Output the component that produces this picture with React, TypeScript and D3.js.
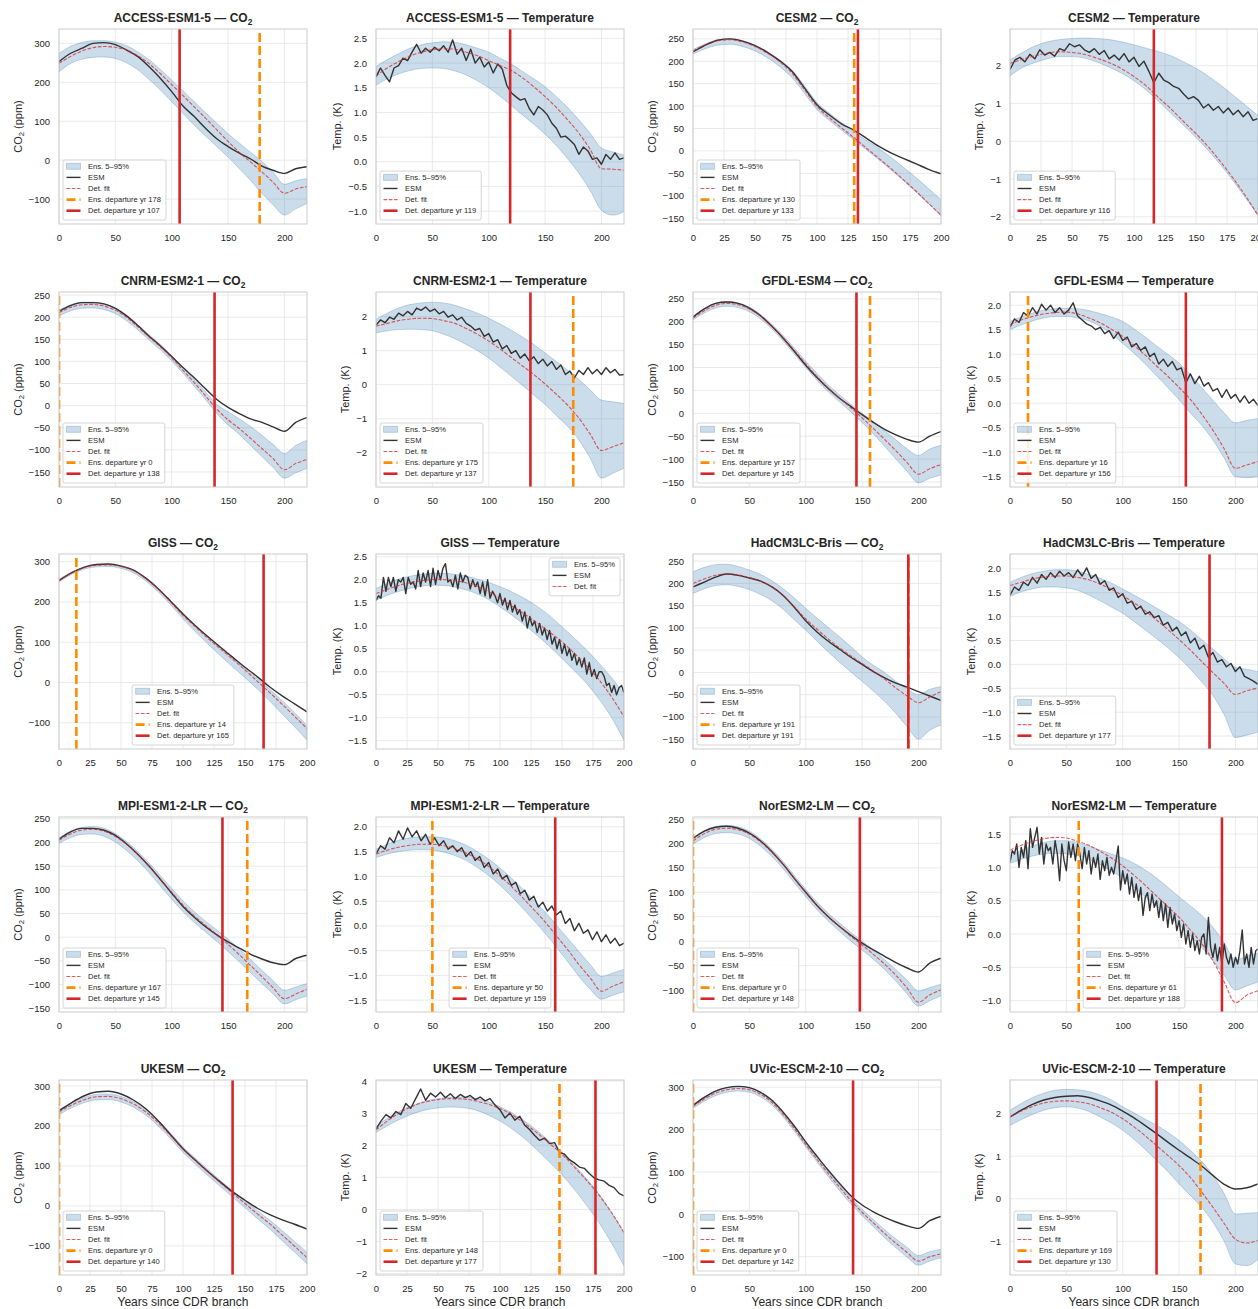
import React, { useRef, useEffect } from 'react';
import * as d3 from 'd3';

// ---- layout ----
const W = 1258;
const H = 1309;
const colLeft = [59, 376, 693, 1010];
const rowTop = [29, 292, 554, 817, 1080];
const plotW = 248;
const plotH = 195;
const FONT = "'Liberation Sans', Arial, Helvetica, sans-serif";
const TXT = '#262626';

// ---- tick values ----
const xTicks220 = [0, 50, 100, 150, 200];
const xTicks200 = [0, 25, 50, 75, 100, 125, 150, 175, 200];
const co2TicksA = [-100, 0, 100, 200, 300];
const co2TicksB = [-150, -100, -50, 0, 50, 100, 150, 200, 250];
const co2TicksC = [-100, -50, 0, 50, 100, 150, 200, 250];
const tTicksA = [-1, -0.5, 0, 0.5, 1, 1.5, 2, 2.5];
const tTicksB = [-2, -1, 0, 1, 2];
const tTicksC = [-1.5, -1, -0.5, 0, 0.5, 1, 1.5, 2];
const tTicksD = [-1.5, -1, -0.5, 0, 0.5, 1, 1.5, 2, 2.5];
const tTicksE = [-1, -0.5, 0, 0.5, 1, 1.5];
const tTicksF = [-2, -1, 0, 1, 2, 3, 4];
const tTicksG = [-1, 0, 1, 2];

// ---- series (band / fit / smooth ESM every 10 yr, noisy ESM every 4 or 2 yr) ----
// ACCESS-ESM1-5
const accessCo2Hi = [274, 292, 302, 307, 307, 303, 294, 278, 258, 233, 206, 178, 150, 122, 95, 68, 44, 20, -3, -32, -62, -53, -47];
const accessCo2Lo = [227, 248, 259, 264, 265, 261, 250, 232, 207, 180, 150, 120, 90, 62, 35, 8, -22, -52, -85, -115, -141, -125, -111];
const accessCo2Fit = [249, 266, 280, 289, 292, 290, 283, 268, 248, 222, 194, 166, 137, 108, 78, 48, 20, -5, -30, -57, -85, -74, -68];
const accessCo2Esm = [253, 274, 287, 300, 302, 297, 283, 266, 240, 210, 176, 139, 112, 82, 55, 35, 18, 3, -15, -26, -34, -22, -17];
const accessTHi = [1.93, 2.07, 2.19, 2.3, 2.37, 2.41, 2.43, 2.42, 2.37, 2.3, 2.22, 2.1, 1.98, 1.83, 1.68, 1.52, 1.32, 1.1, 0.85, 0.58, 0.28, 0.2, 0.14];
const accessTLo = [1.55, 1.68, 1.78, 1.85, 1.89, 1.9, 1.89, 1.84, 1.76, 1.64, 1.5, 1.33, 1.14, 0.95, 0.76, 0.56, 0.33, 0.06, -0.23, -0.58, -0.98, -1.08, -1.01];
const accessTFit = [1.74, 1.9, 2.03, 2.14, 2.22, 2.27, 2.29, 2.28, 2.22, 2.15, 2.05, 1.95, 1.85, 1.7, 1.52, 1.32, 1.1, 0.85, 0.58, 0.25, -0.14, -0.15, -0.17];
const accessTEsm = [1.72, 1.9, 1.75, 1.62, 1.9, 1.95, 2.1, 2.05, 2.22, 2.38, 2.2, 2.3, 2.22, 2.32, 2.25, 2.35, 2.22, 2.47, 2.18, 2.3,
  2.05, 2.28, 2.0, 2.12, 1.92, 2.02, 1.8, 1.98, 1.88, 1.55, 1.4, 1.32, 1.25, 1.28, 1.08, 0.95, 1.12, 1.05, 0.95, 0.78,
  0.68, 0.5, 0.52, 0.44, 0.35, 0.15, 0.3, 0.22, 0.05, 0.08, -0.05, 0.15, 0.05, 0.18, 0.05, 0.08];
// CESM2
const cesmCo2Hi = [226, 239, 248, 250, 246, 236, 221, 203, 180, 145, 108, 84, 63, 42, 23, 5, -15, -37, -60, -84, -109];
const cesmCo2Lo = [216, 228, 236, 238, 233, 223, 208, 188, 163, 128, 92, 68, 46, 24, 2, -20, -43, -67, -92, -118, -145];
const cesmCo2Fit = [223, 237, 246, 248, 243, 233, 218, 199, 173, 136, 99, 74, 51, 29, 6, -17, -40, -65, -90, -117, -143];
const cesmCo2Esm = [221, 236, 247, 250, 245, 235, 220, 201, 177, 140, 103, 80, 60, 46, 28, 10, -5, -17, -29, -41, -51];
const cesmTHi = [2.15, 2.35, 2.52, 2.63, 2.69, 2.72, 2.73, 2.72, 2.69, 2.63, 2.55, 2.46, 2.37, 2.26, 2.1, 1.93, 1.72, 1.48, 1.22, 0.95, 0.68];
const cesmTLo = [1.73, 1.95, 2.08, 2.18, 2.24, 2.24, 2.2, 2.1, 1.96, 1.8, 1.6, 1.35, 1.05, 0.73, 0.42, 0.1, -0.25, -0.63, -1.05, -1.5, -1.97];
const cesmTFit = [2.06, 2.17, 2.26, 2.33, 2.37, 2.35, 2.3, 2.2, 2.08, 1.92, 1.71, 1.46, 1.15, 0.85, 0.52, 0.2, -0.15, -0.55, -0.98, -1.45, -1.96];
const cesmTEsm = [1.9, 2.15, 2.22, 2.1, 2.3, 2.18, 2.42, 2.28, 2.35, 2.25, 2.45, 2.4, 2.58, 2.5, 2.55, 2.42, 2.35, 2.45, 2.3, 2.4,
  2.18, 2.28, 2.15, 2.32, 2.1, 2.22, 1.98, 2.12, 1.85, 1.55, 1.8, 1.62, 1.55, 1.45, 1.4, 1.25, 1.12, 1.18, 1.08, 0.88,
  0.98, 0.82, 0.92, 0.75, 0.88, 0.7, 0.82, 0.65, 0.78, 0.55, 0.6];
// CNRM-ESM2-1
const cnrmCo2Hi = [216, 228, 234, 234, 230, 221, 205, 183, 160, 138, 113, 86, 59, 31, 3, -14, -30, -47, -67, -88, -108, -90, -78];
const cnrmCo2Lo = [203, 214, 220, 221, 217, 208, 192, 171, 148, 126, 101, 73, 44, 14, -18, -44, -65, -90, -115, -140, -164, -152, -142];
const cnrmCo2Fit = [210, 222, 228, 229, 225, 216, 200, 178, 155, 133, 108, 80, 52, 22, -8, -32, -52, -74, -97, -120, -145, -131, -122];
const cnrmCo2Esm = [213, 226, 233, 233, 230, 220, 203, 181, 157, 135, 111, 86, 63, 38, 14, -4, -18, -30, -38, -48, -58, -38, -27];
const cnrmTHi = [1.92, 2.1, 2.25, 2.35, 2.4, 2.42, 2.4, 2.33, 2.22, 2.1, 1.95, 1.78, 1.6, 1.4, 1.18, 0.93, 0.68, 0.43, 0.15, -0.15, -0.45, -0.5, -0.55];
const cnrmTLo = [1.52, 1.58, 1.62, 1.63, 1.62, 1.58, 1.48, 1.35, 1.18, 1.0, 0.78, 0.52, 0.25, -0.02, -0.3, -0.58, -0.9, -1.22, -1.62, -2.15, -2.74, -2.6, -2.45];
const cnrmTFit = [1.72, 1.8, 1.88, 1.93, 1.95, 1.94, 1.88, 1.8, 1.65, 1.48, 1.28, 1.05, 0.8, 0.55, 0.3, 0.02, -0.28, -0.6, -0.98, -1.45, -1.93, -1.82, -1.7];
const cnrmTEsm = [1.75, 1.9, 1.82, 1.98, 1.92, 2.1, 2.02, 2.15, 2.05, 2.25, 2.18, 2.28, 2.15, 2.22, 2.08, 2.15, 1.98, 2.05, 1.9, 1.98,
  1.8, 1.72, 1.6, 1.65, 1.42, 1.5, 1.25, 1.32, 1.05, 1.15, 0.92, 1.0, 0.78, 0.9, 0.7, 0.82, 0.62, 0.75, 0.55, 0.68,
  0.45, 0.58, 0.3, 0.4, 0.2, 0.42, 0.3, 0.5, 0.32, 0.45, 0.3, 0.5, 0.35, 0.45, 0.28, 0.3];
// GFDL-ESM4
const gfdlCo2Hi = [212, 228, 240, 244, 241, 232, 216, 194, 170, 142, 114, 87, 62, 40, 20, 0, -18, -38, -58, -78, -92, -78, -70];
const gfdlCo2Lo = [204, 219, 230, 234, 231, 222, 206, 184, 158, 129, 100, 72, 47, 25, 3, -20, -45, -72, -100, -127, -152, -142, -135];
const gfdlCo2Fit = [208, 224, 236, 240, 237, 228, 212, 190, 165, 137, 108, 80, 55, 33, 12, -10, -33, -57, -82, -108, -133, -121, -112];
const gfdlCo2Esm = [210, 228, 240, 243, 240, 230, 213, 190, 164, 135, 105, 78, 54, 33, 15, -3, -20, -35, -47, -57, -63, -50, -40];
const gfdlTHi = [1.67, 1.76, 1.84, 1.9, 1.93, 1.94, 1.93, 1.89, 1.83, 1.76, 1.67, 1.52, 1.35, 1.17, 1.0, 0.82, 0.58, 0.32, 0.06, -0.2, -0.4, -0.35, -0.31];
const gfdlTLo = [1.5, 1.6, 1.68, 1.74, 1.77, 1.77, 1.74, 1.68, 1.57, 1.41, 1.22, 1.02, 0.8, 0.56, 0.32, 0.07, -0.2, -0.45, -0.75, -1.12, -1.5, -1.52, -1.5];
const gfdlTFit = [1.6, 1.7, 1.77, 1.82, 1.85, 1.86, 1.82, 1.74, 1.64, 1.51, 1.36, 1.18, 0.98, 0.76, 0.55, 0.32, 0.08, -0.22, -0.55, -0.93, -1.33, -1.26, -1.19];
const gfdlTEsm = [1.55, 1.72, 1.65, 1.85, 1.78, 1.95, 1.82, 2.02, 1.9, 2.0, 1.85, 1.95, 1.82, 1.9, 2.05, 1.78, 1.7, 1.62, 1.58, 1.5,
  1.55, 1.42, 1.48, 1.32, 1.45, 1.28, 1.35, 1.15, 1.22, 1.08, 1.15, 0.95, 1.02, 0.8, 0.9, 0.75, 0.85, 0.68, 0.72, 0.42,
  0.6, 0.4, 0.55, 0.35, 0.42, 0.25, 0.3, 0.12, 0.28, 0.1, 0.18, 0.02, 0.15, 0.0, 0.08, -0.05];
// GISS
const gissCo2Hi = [256, 274, 287, 293, 294, 290, 280, 260, 234, 203, 170, 141, 113, 87, 61, 35, 9, -17, -45, -75, -107];
const gissCo2Lo = [250, 268, 281, 287, 288, 283, 272, 252, 225, 193, 158, 126, 96, 67, 39, 12, -16, -46, -78, -110, -143];
const gissCo2Fit = [254, 272, 285, 291, 292, 288, 278, 258, 232, 200, 167, 138, 110, 84, 58, 31, 3, -25, -54, -84, -114];
const gissCo2Esm = [253, 272, 286, 293, 294, 289, 279, 259, 233, 202, 170, 141, 114, 88, 63, 38, 14, -11, -33, -53, -73];
const gissTHi = [1.81, 1.93, 2.03, 2.09, 2.13, 2.14, 2.13, 2.09, 2.03, 1.95, 1.85, 1.73, 1.59, 1.42, 1.22, 0.98, 0.73, 0.47, 0.18, -0.13, -0.47];
const gissTLo = [1.56, 1.67, 1.76, 1.83, 1.87, 1.88, 1.86, 1.8, 1.71, 1.58, 1.41, 1.22, 1.01, 0.79, 0.55, 0.29, 0.02, -0.26, -0.6, -1.0, -1.49];
const gissTFit = [1.7, 1.8, 1.89, 1.95, 1.99, 2.01, 1.99, 1.95, 1.87, 1.75, 1.59, 1.42, 1.25, 1.06, 0.86, 0.65, 0.4, 0.12, -0.18, -0.55, -0.98];
const gissTEsm = [1.55, 1.65, 1.6, 2.05, 1.75, 2.05, 1.85, 2.05, 1.75, 2.0,
  1.95, 2.05, 1.7, 2.05, 1.9, 1.95, 1.8, 2.2, 1.85, 2.15,
  1.95, 2.2, 1.85, 2.25, 1.9, 2.2, 2.0, 2.25, 2.35, 1.95,
  2.0, 1.85, 2.1, 1.8, 2.15, 1.95, 2.1, 2.05, 1.8, 2.0,
  1.85, 1.95, 1.7, 1.95, 1.65, 2.0, 1.6, 1.75, 1.65, 1.5,
  1.7, 1.45, 1.6, 1.35, 1.55, 1.3, 1.45, 1.25, 1.35, 1.1,
  1.3, 0.95, 1.2, 1.0, 1.1, 0.85, 1.05, 0.8, 0.95, 0.7,
  0.9, 0.6, 0.75, 0.5, 0.7, 0.4, 0.6, 0.35, 0.5, 0.25,
  0.4, 0.15, 0.3, 0.1, 0.3, -0.05, 0.2, -0.1, 0.05, -0.15,
  0.0, 0.0, -0.1, -0.3, -0.25, -0.45, -0.3, -0.5, -0.35, -0.3,
  -0.45];
// HadCM3LC-Bris
const hadCo2Hi = [226, 236, 242, 243, 238, 230, 220, 206, 188, 167, 144, 122, 101, 80, 58, 35, 16, 0, -20, -37, -50, -38, -32];
const hadCo2Lo = [177, 188, 195, 197, 193, 186, 175, 161, 142, 118, 95, 70, 46, 23, 1, -20, -42, -65, -92, -122, -150, -130, -118];
const hadCo2Fit = [200, 210, 218, 221, 219, 213, 205, 192, 172, 147, 120, 97, 75, 55, 37, 20, 3, -15, -35, -53, -68, -55, -43];
const hadCo2Esm = [192, 203, 214, 221, 218, 212, 205, 192, 173, 146, 116, 91, 70, 52, 34, 18, 2, -12, -24, -33, -43, -53, -63];
const hadTHi = [1.72, 1.82, 1.9, 1.95, 1.98, 1.98, 1.95, 1.88, 1.8, 1.7, 1.58, 1.45, 1.32, 1.18, 1.04, 0.9, 0.72, 0.52, 0.32, 0.12, -0.06, -0.1, -0.15];
const hadTLo = [1.42, 1.52, 1.58, 1.62, 1.62, 1.6, 1.55, 1.45, 1.33, 1.2, 1.07, 0.9, 0.72, 0.54, 0.35, 0.14, -0.1, -0.36, -0.65, -1.05, -1.53, -1.48, -1.42];
const hadTFit = [1.65, 1.72, 1.79, 1.83, 1.85, 1.85, 1.82, 1.77, 1.68, 1.57, 1.44, 1.29, 1.12, 0.93, 0.73, 0.52, 0.3, 0.06, -0.17, -0.4, -0.63, -0.55, -0.5];
const hadTEsm = [1.45, 1.62, 1.55, 1.72, 1.65, 1.82, 1.7, 1.88, 1.78, 1.92, 1.82, 1.95, 1.85, 1.92, 1.82, 1.98, 1.85, 2.02, 1.8, 1.88,
  1.68, 1.75, 1.55, 1.6, 1.4, 1.48, 1.28, 1.32, 1.15, 1.22, 1.05, 1.1, 0.98, 1.02, 0.82, 0.88, 0.7, 0.78, 0.6, 0.68,
  0.45, 0.55, 0.32, 0.4, 0.15, 0.25, 0.05, 0.1, -0.05, 0.02, -0.15, -0.05, -0.25, -0.3, -0.35, -0.42];
// MPI-ESM1-2-LR
const mpiCo2Hi = [210, 224, 232, 234, 230, 219, 202, 181, 157, 130, 103, 77, 54, 34, 15, -4, -25, -47, -70, -92, -112, -105, -98];
const mpiCo2Lo = [198, 210, 217, 218, 213, 201, 183, 161, 136, 108, 80, 54, 31, 11, -9, -30, -52, -75, -98, -120, -141, -132, -124];
const mpiCo2Fit = [205, 218, 226, 228, 224, 213, 196, 175, 150, 122, 95, 68, 45, 25, 5, -15, -37, -60, -83, -107, -130, -120, -110];
const mpiCo2Esm = [207, 222, 230, 230, 226, 215, 197, 175, 150, 122, 93, 65, 42, 22, 5, -10, -23, -36, -46, -54, -58, -45, -38];
const mpiTHi = [1.55, 1.65, 1.73, 1.78, 1.8, 1.8, 1.78, 1.72, 1.63, 1.5, 1.35, 1.17, 0.97, 0.75, 0.52, 0.28, 0.02, -0.25, -0.52, -0.78, -1.02, -0.95, -0.88];
const mpiTLo = [1.38, 1.45, 1.5, 1.53, 1.54, 1.53, 1.49, 1.42, 1.32, 1.18, 1.02, 0.82, 0.6, 0.36, 0.11, -0.15, -0.43, -0.72, -1.02, -1.28, -1.48, -1.4, -1.33];
const mpiTFit = [1.45, 1.53, 1.59, 1.63, 1.65, 1.65, 1.62, 1.56, 1.47, 1.35, 1.2, 1.01, 0.8, 0.57, 0.33, 0.08, -0.2, -0.48, -0.78, -1.05, -1.32, -1.22, -1.13];
const mpiTEsm = [1.45, 1.62, 1.55, 1.78, 1.68, 1.92, 1.75, 1.98, 1.8, 1.92, 1.72, 1.85, 1.65, 1.78, 1.62, 1.72, 1.55, 1.62, 1.5, 1.58,
  1.4, 1.5, 1.32, 1.4, 1.18, 1.28, 1.05, 1.15, 0.95, 1.02, 0.82, 0.88, 0.65, 0.72, 0.52, 0.6, 0.38, 0.48, 0.3, 0.4,
  0.22, 0.3, 0.05, 0.15, -0.1, 0.05, -0.15, -0.08, -0.28, -0.12, -0.32, -0.18, -0.35, -0.25, -0.4, -0.35];
// NorESM2-LM
const norCo2Hi = [212, 226, 235, 237, 234, 225, 209, 188, 163, 134, 106, 80, 57, 37, 18, 0, -18, -38, -58, -80, -102, -95, -88];
const norCo2Lo = [198, 212, 220, 222, 219, 210, 194, 173, 148, 119, 91, 64, 41, 20, 0, -18, -37, -58, -82, -108, -133, -122, -112];
const norCo2Fit = [205, 220, 229, 231, 228, 219, 203, 182, 157, 128, 100, 73, 50, 30, 10, -8, -27, -47, -70, -96, -125, -110, -100];
const norCo2Esm = [210, 225, 233, 235, 231, 221, 205, 183, 157, 128, 100, 73, 50, 30, 12, -4, -18, -31, -44, -55, -63, -45, -35];
const norTHi = [1.16, 1.25, 1.32, 1.37, 1.4, 1.4, 1.37, 1.32, 1.26, 1.2, 1.14, 1.06, 0.96, 0.84, 0.7, 0.56, 0.42, 0.28, 0.1, -0.13, -0.39, -0.33, -0.29];
const norTLo = [1.06, 1.12, 1.17, 1.2, 1.21, 1.2, 1.18, 1.12, 1.04, 0.94, 0.84, 0.7, 0.56, 0.42, 0.28, 0.14, -0.03, -0.2, -0.4, -0.62, -0.84, -0.78, -0.72];
const norTFit = [1.26, 1.33, 1.39, 1.43, 1.45, 1.44, 1.39, 1.33, 1.24, 1.14, 1.02, 0.88, 0.73, 0.57, 0.41, 0.25, 0.06, -0.14, -0.4, -0.72, -1.03, -0.92, -0.85];
const norTEsm = [1.08, 1.25, 1.2, 1.35, 1.0, 1.3, 1.15, 1.4, 0.98, 1.58,
  1.3, 1.45, 1.6, 1.2, 1.45, 1.05, 1.35, 1.25, 1.3, 1.05,
  1.4, 1.2, 0.8, 1.35, 1.1, 0.95, 1.38, 1.15, 1.35, 1.1,
  1.35, 1.2, 0.98, 1.3, 1.05, 1.25, 0.9, 1.15, 1.0, 1.2,
  0.82, 1.1, 0.95, 1.15, 0.88, 1.0, 0.9, 1.1, 1.32, 0.66,
  0.95, 0.75, 0.9, 0.6, 0.85, 0.55, 0.75, 0.5, 0.7, 0.28,
  0.55, 0.62, 0.35, 0.6, 0.4, 0.5, 0.25, 0.5, 0.2, 0.45,
  0.1, 0.4, 0.15, 0.3, 0.05, 0.2, -0.05, 0.15, -0.15, 0.05,
  -0.2, 0.0, -0.25, -0.1, -0.3, -0.05, 0.0, -0.3, 0.25, -0.2,
  -0.35, -0.15, -0.4, -0.2, -0.45, -0.15, -0.35, -0.45, -0.3, -0.5,
  -0.35, -0.45, -0.25, 0.06, -0.45, -0.3, -0.5, -0.2, -0.45, -0.25,
  -0.22];
// UKESM
const ukCo2Hi = [241, 258, 271, 279, 280, 274, 261, 241, 214, 182, 148, 119, 91, 64, 38, 13, -12, -36, -62, -89, -116];
const ukCo2Lo = [228, 245, 258, 265, 266, 260, 247, 227, 200, 168, 134, 104, 76, 49, 22, -5, -32, -58, -87, -116, -145];
const ukCo2Fit = [235, 252, 265, 273, 274, 268, 255, 235, 208, 176, 142, 113, 85, 58, 32, 6, -20, -45, -73, -101, -130];
const ukCo2Esm = [238, 258, 275, 285, 287, 280, 265, 243, 213, 178, 143, 114, 86, 60, 35, 14, -6, -22, -35, -46, -58];
const ukTHi = [2.58, 2.86, 3.08, 3.25, 3.38, 3.45, 3.49, 3.5, 3.46, 3.36, 3.2, 3.0, 2.75, 2.45, 2.12, 1.78, 1.38, 0.95, 0.48, -0.1, -0.72];
const ukTLo = [2.4, 2.62, 2.82, 2.98, 3.1, 3.16, 3.19, 3.17, 3.1, 2.95, 2.75, 2.5, 2.2, 1.85, 1.47, 1.08, 0.62, 0.12, -0.42, -1.05, -1.76];
const ukTFit = [2.47, 2.78, 3.03, 3.22, 3.35, 3.42, 3.45, 3.44, 3.38, 3.28, 3.14, 2.94, 2.67, 2.38, 2.05, 1.72, 1.32, 0.9, 0.44, -0.1, -0.72];
const ukTEsm = [2.5, 2.75, 2.95, 2.85, 3.05, 2.95, 3.3, 3.15, 3.45, 3.75, 3.4, 3.62, 3.5, 3.65, 3.48, 3.6, 3.45, 3.58, 3.48, 3.55,
  3.42, 3.5, 3.38, 3.45, 3.25, 3.1, 2.85, 3.0, 2.78, 2.9, 2.62, 2.48, 2.3, 2.15, 2.22, 2.05, 2.08, 1.78, 1.72, 1.55,
  1.45, 1.32, 1.28, 1.12, 0.98, 0.92, 0.88, 0.75, 0.68, 0.5, 0.42];
// UVic-ESCM-2-10
const uvicCo2Hi = [259, 277, 291, 299, 302, 299, 288, 269, 241, 207, 170, 135, 101, 69, 39, 12, -12, -36, -58, -78, -97, -88, -82];
const uvicCo2Lo = [250, 267, 280, 288, 291, 288, 277, 258, 230, 196, 159, 124, 89, 56, 25, -3, -29, -55, -79, -101, -120, -110, -103];
const uvicCo2Fit = [255, 272, 286, 294, 297, 294, 283, 264, 236, 202, 165, 130, 96, 64, 33, 5, -20, -45, -68, -90, -110, -100, -93];
const uvicCo2Esm = [257, 276, 291, 299, 302, 299, 288, 269, 241, 208, 171, 137, 104, 73, 44, 22, 6, -7, -18, -27, -33, -15, -5];
const uvicTHi = [2.08, 2.24, 2.38, 2.48, 2.55, 2.57, 2.56, 2.52, 2.44, 2.32, 2.16, 2.02, 1.87, 1.73, 1.56, 1.37, 1.14, 0.88, 0.55, 0.12, -0.36, -0.34, -0.32];
const uvicTLo = [1.72, 1.86, 1.98, 2.08, 2.14, 2.16, 2.13, 2.05, 1.92, 1.78, 1.61, 1.4, 1.16, 0.9, 0.64, 0.35, 0.08, -0.2, -0.55, -1.0, -1.53, -1.57, -1.42];
const uvicTFit = [1.92, 2.06, 2.17, 2.25, 2.29, 2.3, 2.28, 2.23, 2.14, 2.03, 1.88, 1.69, 1.48, 1.25, 1.02, 0.78, 0.5, 0.16, -0.2, -0.58, -0.95, -1.04, -0.98];
const uvicTEsm = [1.92, 2.08, 2.22, 2.32, 2.38, 2.41, 2.42, 2.38, 2.3, 2.2, 2.06, 1.9, 1.72, 1.53, 1.33, 1.14, 0.96, 0.77, 0.55, 0.34, 0.23, 0.26, 0.35];

type Panel = {
  model: string; kind: 'co2' | 'temp'; xMax: number; yDomain: number[]; yTicks: number[]; dec: number;
  hi: number[]; lo: number[]; fit: number[]; esm: number[]; esmStep: number;
  ens: number | null; det: number | null; legend: 'll' | 'lc' | 'ur';
};

const panels: Panel[] = [
  { model: 'ACCESS-ESM1-5', kind: 'co2', xMax: 220, yDomain: [-164, 337], yTicks: co2TicksA, dec: 0, hi: accessCo2Hi, lo: accessCo2Lo, fit: accessCo2Fit, esm: accessCo2Esm, esmStep: 10, ens: 178, det: 107, legend: 'll' },
  { model: 'ACCESS-ESM1-5', kind: 'temp', xMax: 220, yDomain: [-1.26, 2.69], yTicks: tTicksA, dec: 1, hi: accessTHi, lo: accessTLo, fit: accessTFit, esm: accessTEsm, esmStep: 4, ens: null, det: 119, legend: 'll' },
  { model: 'CESM2', kind: 'co2', xMax: 200, yDomain: [-163, 272], yTicks: co2TicksB, dec: 0, hi: cesmCo2Hi, lo: cesmCo2Lo, fit: cesmCo2Fit, esm: cesmCo2Esm, esmStep: 10, ens: 130, det: 133, legend: 'll' },
  { model: 'CESM2', kind: 'temp', xMax: 200, yDomain: [-2.19, 2.97], yTicks: tTicksB, dec: 0, hi: cesmTHi, lo: cesmTLo, fit: cesmTFit, esm: cesmTEsm, esmStep: 4, ens: null, det: 116, legend: 'll' },
  { model: 'CNRM-ESM2-1', kind: 'co2', xMax: 220, yDomain: [-184, 257], yTicks: co2TicksB, dec: 0, hi: cnrmCo2Hi, lo: cnrmCo2Lo, fit: cnrmCo2Fit, esm: cnrmCo2Esm, esmStep: 10, ens: 0, det: 138, legend: 'll' },
  { model: 'CNRM-ESM2-1', kind: 'temp', xMax: 220, yDomain: [-3.0, 2.72], yTicks: tTicksB, dec: 0, hi: cnrmTHi, lo: cnrmTLo, fit: cnrmTFit, esm: cnrmTEsm, esmStep: 4, ens: 175, det: 137, legend: 'll' },
  { model: 'GFDL-ESM4', kind: 'co2', xMax: 220, yDomain: [-161, 265], yTicks: co2TicksB, dec: 0, hi: gfdlCo2Hi, lo: gfdlCo2Lo, fit: gfdlCo2Fit, esm: gfdlCo2Esm, esmStep: 10, ens: 157, det: 145, legend: 'll' },
  { model: 'GFDL-ESM4', kind: 'temp', xMax: 220, yDomain: [-1.71, 2.27], yTicks: tTicksC, dec: 1, hi: gfdlTHi, lo: gfdlTLo, fit: gfdlTFit, esm: gfdlTEsm, esmStep: 4, ens: 16, det: 156, legend: 'll' },
  { model: 'GISS', kind: 'co2', xMax: 200, yDomain: [-165, 319], yTicks: co2TicksA, dec: 0, hi: gissCo2Hi, lo: gissCo2Lo, fit: gissCo2Fit, esm: gissCo2Esm, esmStep: 10, ens: 14, det: 165, legend: 'lc' },
  { model: 'GISS', kind: 'temp', xMax: 200, yDomain: [-1.68, 2.56], yTicks: tTicksD, dec: 1, hi: gissTHi, lo: gissTLo, fit: gissTFit, esm: gissTEsm, esmStep: 2, ens: null, det: null, legend: 'ur' },
  { model: 'HadCM3LC-Bris', kind: 'co2', xMax: 220, yDomain: [-172, 266], yTicks: co2TicksB, dec: 0, hi: hadCo2Hi, lo: hadCo2Lo, fit: hadCo2Fit, esm: hadCo2Esm, esmStep: 10, ens: 191, det: 191, legend: 'll' },
  { model: 'HadCM3LC-Bris', kind: 'temp', xMax: 220, yDomain: [-1.77, 2.31], yTicks: tTicksC, dec: 1, hi: hadTHi, lo: hadTLo, fit: hadTFit, esm: hadTEsm, esmStep: 4, ens: null, det: 177, legend: 'll' },
  { model: 'MPI-ESM1-2-LR', kind: 'co2', xMax: 220, yDomain: [-158, 254], yTicks: co2TicksB, dec: 0, hi: mpiCo2Hi, lo: mpiCo2Lo, fit: mpiCo2Fit, esm: mpiCo2Esm, esmStep: 10, ens: 167, det: 145, legend: 'll' },
  { model: 'MPI-ESM1-2-LR', kind: 'temp', xMax: 220, yDomain: [-1.74, 2.2], yTicks: tTicksC, dec: 1, hi: mpiTHi, lo: mpiTLo, fit: mpiTFit, esm: mpiTEsm, esmStep: 4, ens: 50, det: 159, legend: 'lc' },
  { model: 'NorESM2-LM', kind: 'co2', xMax: 220, yDomain: [-145, 254], yTicks: co2TicksC, dec: 0, hi: norCo2Hi, lo: norCo2Lo, fit: norCo2Fit, esm: norCo2Esm, esmStep: 10, ens: 0, det: 148, legend: 'll' },
  { model: 'NorESM2-LM', kind: 'temp', xMax: 220, yDomain: [-1.17, 1.755], yTicks: tTicksE, dec: 1, hi: norTHi, lo: norTLo, fit: norTFit, esm: norTEsm, esmStep: 2, ens: 61, det: 188, legend: 'lc' },
  { model: 'UKESM', kind: 'co2', xMax: 200, yDomain: [-173, 315], yTicks: co2TicksA, dec: 0, hi: ukCo2Hi, lo: ukCo2Lo, fit: ukCo2Fit, esm: ukCo2Esm, esmStep: 10, ens: 0, det: 140, legend: 'll' },
  { model: 'UKESM', kind: 'temp', xMax: 200, yDomain: [-2.04, 4.03], yTicks: tTicksF, dec: 0, hi: ukTHi, lo: ukTLo, fit: ukTFit, esm: ukTEsm, esmStep: 4, ens: 148, det: 177, legend: 'll' },
  { model: 'UVic-ESCM-2-10', kind: 'co2', xMax: 220, yDomain: [-143, 317], yTicks: co2TicksA, dec: 0, hi: uvicCo2Hi, lo: uvicCo2Lo, fit: uvicCo2Fit, esm: uvicCo2Esm, esmStep: 10, ens: 0, det: 142, legend: 'll' },
  { model: 'UVic-ESCM-2-10', kind: 'temp', xMax: 220, yDomain: [-1.79, 2.79], yTicks: tTicksG, dec: 0, hi: uvicTHi, lo: uvicTLo, fit: uvicTFit, esm: uvicTEsm, esmStep: 10, ens: 169, det: 130, legend: 'll' },
];

const fmt = (v: number, dec: number) => (v < 0 ? '\u2212' : '') + Math.abs(v).toFixed(dec);

// text with a CO2 subscript
function co2Text(sel: any, before: string, after: string) {
  sel.append('tspan').text(before + 'CO');
  sel.append('tspan').attr('font-size', '70%').attr('dy', 2.5).text('2');
  if (after) sel.append('tspan').attr('dy', -2.5).text(after);
}

function drawLegend(g: any, p: Panel, L: number, T: number, R: number, B: number) {
  const entries: { type: string; label: string }[] = [
    { type: 'patch', label: 'Ens. 5\u201395%' },
    { type: 'esm', label: 'ESM' },
    { type: 'fit', label: 'Det. fit' },
  ];
  if (p.ens != null) entries.push({ type: 'ens', label: `Ens. departure yr ${p.ens}` });
  if (p.det != null) entries.push({ type: 'det', label: `Det. departure yr ${p.det}` });

  const rowH = 11.1;
  const lg = g.append('g');
  const box = lg.append('rect');
  const texts = lg.selectAll('text.lt').data(entries).join('text')
    .attr('class', 'lt')
    .attr('font-family', FONT).attr('font-size', 7.6).attr('fill', TXT)
    .text((d: any) => d.label);
  let maxW = 0;
  texts.each(function (this: SVGTextElement) { maxW = Math.max(maxW, this.getComputedTextLength()); });
  const bw = 25 + maxW + 5;
  const bh = entries.length * rowH + 4.5;
  let bx = L + 4;
  let by = B - 4 - bh;
  if (p.legend === 'lc') bx = (L + R) / 2 - bw / 2;
  if (p.legend === 'ur') { bx = R - 4 - bw; by = T + 4; }
  box.attr('x', bx).attr('y', by).attr('width', bw).attr('height', bh).attr('rx', 2)
    .attr('fill', '#fff').attr('fill-opacity', 0.85).attr('stroke', '#cccccc').attr('stroke-width', 0.8);
  const cy = (k: number) => by + 6.3 + k * rowH;
  texts.attr('x', bx + 25).attr('y', (d: any, k: number) => cy(k) + 2.7);

  entries.forEach((e, k) => {
    const yy = cy(k);
    const x0 = bx + 3.5, x1 = bx + 17.5;
    if (e.type === 'patch') {
      lg.append('rect').attr('x', x0).attr('y', yy - 3).attr('width', x1 - x0).attr('height', 6)
        .attr('fill', 'steelblue').attr('fill-opacity', 0.28).attr('stroke', 'steelblue').attr('stroke-opacity', 0.3);
    } else {
      const ln = lg.append('line').attr('x1', x0).attr('x2', x1).attr('y1', yy).attr('y2', yy);
      if (e.type === 'esm') ln.attr('stroke', '#333').attr('stroke-width', 1.4);
      if (e.type === 'fit') ln.attr('stroke', '#d62728').attr('stroke-opacity', 0.75).attr('stroke-width', 1.1).attr('stroke-dasharray', '3.7,1.6');
      if (e.type === 'ens') ln.attr('stroke', '#ff8c00').attr('stroke-width', 2.6).attr('stroke-dasharray', '9,4');
      if (e.type === 'det') ln.attr('stroke', '#d62728').attr('stroke-width', 2.6);
    }
  });
}

function drawPanel(svg: any, p: Panel, i: number) {
  const row = Math.floor(i / 4);
  const col = i % 4;
  const L = colLeft[col], T = rowTop[row], R = L + plotW, B = T + plotH;
  const x = d3.scaleLinear().domain([0, p.xMax]).range([L, R]);
  const y = d3.scaleLinear().domain(p.yDomain).range([B, T]);
  const xt = p.xMax === 220 ? xTicks220 : xTicks200;
  const g = svg.append('g');

  // grid
  g.append('g').selectAll('line').data(xt).join('line')
    .attr('x1', (d: number) => x(d)).attr('x2', (d: number) => x(d)).attr('y1', T).attr('y2', B)
    .attr('stroke', '#e8e8e8').attr('stroke-width', 0.9);
  g.append('g').selectAll('line').data(p.yTicks).join('line')
    .attr('x1', L).attr('x2', R).attr('y1', (d: number) => y(d)).attr('y2', (d: number) => y(d))
    .attr('stroke', '#e8e8e8').attr('stroke-width', 0.9);

  const clipId = `clip-${i}`;
  g.append('clipPath').attr('id', clipId).append('rect')
    .attr('x', L).attr('y', T).attr('width', plotW).attr('height', plotH);
  const plot = g.append('g').attr('clip-path', `url(#${clipId})`);

  const yrs = d3.range(0, p.xMax + 1, 10);
  const band = d3.area<number>()
    .x((d, k) => x(yrs[k]))
    .y0((d, k) => y(p.lo[k]))
    .y1(d => y(d))
    .curve(d3.curveMonotoneX);
  plot.append('path').datum(p.hi).attr('d', band)
    .attr('fill', 'steelblue').attr('fill-opacity', 0.28)
    .attr('stroke', 'steelblue').attr('stroke-opacity', 0.3).attr('stroke-width', 1);

  const esmYrs = d3.range(0, p.xMax + 1, p.esmStep);
  const esmLine = d3.line<number>()
    .x((d, k) => x(esmYrs[k]))
    .y(d => y(d))
    .curve(p.esmStep === 10 ? d3.curveMonotoneX : d3.curveLinear);
  plot.append('path').datum(p.esm).attr('d', esmLine)
    .attr('fill', 'none').attr('stroke', '#333').attr('stroke-width', 1.4).attr('stroke-linejoin', 'round');

  const fitLine = d3.line<number>()
    .x((d, k) => x(yrs[k]))
    .y(d => y(d))
    .curve(d3.curveMonotoneX);
  plot.append('path').datum(p.fit).attr('d', fitLine)
    .attr('fill', 'none').attr('stroke', '#d62728').attr('stroke-opacity', 0.75)
    .attr('stroke-width', 1.1).attr('stroke-dasharray', '3.7,1.6');

  if (p.ens != null) {
    plot.append('line').attr('x1', x(p.ens)).attr('x2', x(p.ens)).attr('y1', B).attr('y2', T)
      .attr('stroke', '#ff8c00').attr('stroke-width', 2.6).attr('stroke-dasharray', '9,4');
  }
  if (p.det != null) {
    plot.append('line').attr('x1', x(p.det)).attr('x2', x(p.det)).attr('y1', B).attr('y2', T)
      .attr('stroke', '#d62728').attr('stroke-width', 2.6);
  }

  // frame
  g.append('rect').attr('x', L).attr('y', T).attr('width', plotW).attr('height', plotH)
    .attr('fill', 'none').attr('stroke', '#cccccc').attr('stroke-width', 1);

  // axes
  const ax = g.append('g').attr('transform', `translate(0,${B})`)
    .call(d3.axisBottom(x).tickValues(xt).tickSize(0).tickPadding(10).tickFormat((d: any) => String(d)));
  ax.select('.domain').remove();
  ax.attr('font-family', FONT).attr('font-size', 9.5).attr('color', TXT);

  const ay = g.append('g').attr('transform', `translate(${L},0)`)
    .call(d3.axisLeft(y).tickValues(p.yTicks).tickSize(0).tickPadding(9).tickFormat((d: any) => fmt(d, p.dec)));
  ay.select('.domain').remove();
  ay.attr('font-family', FONT).attr('font-size', 9.5).attr('color', TXT);
  let maxW = 0;
  ay.selectAll('text').each(function (this: SVGTextElement) { maxW = Math.max(maxW, this.getComputedTextLength()); });

  // y label
  const lx = L - 9 - maxW - 7;
  const yl = g.append('text')
    .attr('transform', `translate(${lx},${(T + B) / 2}) rotate(-90)`)
    .attr('text-anchor', 'middle').attr('font-family', FONT).attr('font-size', 11).attr('fill', TXT);
  if (p.kind === 'co2') co2Text(yl, '', ' (ppm)');
  else yl.text('Temp. (K)');

  // title
  const tt = g.append('text').attr('x', (L + R) / 2).attr('y', T - 7)
    .attr('text-anchor', 'middle').attr('font-family', FONT).attr('font-size', 12)
    .attr('font-weight', 'bold').attr('fill', TXT);
  if (p.kind === 'co2') co2Text(tt, `${p.model} \u2014 `, '');
  else tt.text(`${p.model} \u2014 Temperature`);

  if (row === 4) {
    g.append('text').attr('x', (L + R) / 2).attr('y', B + 31)
      .attr('text-anchor', 'middle').attr('font-family', FONT).attr('font-size', 12).attr('fill', TXT)
      .text('Years since CDR branch');
  }

  drawLegend(g, p, L, T, R, B);
}

const App = () => {
  const svgRef = useRef<SVGSVGElement>(null);

  useEffect(() => {
    document.body.style.margin = '0';
    const svg = d3.select(svgRef.current)
      .attr('width', W)
      .attr('height', H)
      .style('display', 'block')
      .style('background', '#fff');

    svg.selectAll('*').remove();
    panels.forEach((p, i) => drawPanel(svg, p, i));
  }, []);

  return <svg ref={svgRef}></svg>;
};

export default App;
